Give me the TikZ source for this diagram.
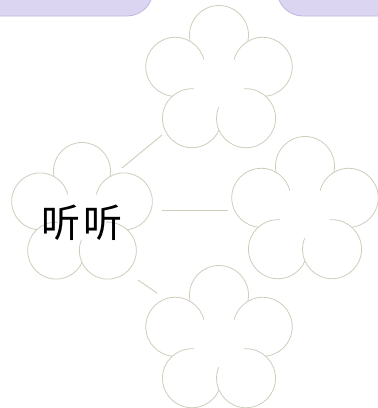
\documentclass[tikz,border=0pt]{standalone}
\usepackage{fontspec}
\newfontfamily\cjk{Noto Sans CJK SC}
\definecolor{flowerline}{RGB}{208,205,188}
\definecolor{lavfill}{RGB}{220,213,241}
\definecolor{lavline}{RGB}{192,182,226}
\tikzset{
  petal/.style={draw=flowerline, fill=white, line width=0.8pt},
  link/.style={draw=flowerline, line width=0.9pt},
  lavbox/.style={draw=lavline, fill=lavfill, line width=0.8pt, rounded corners=26pt},
  pics/flower/.style 2 args={code={
    \foreach \a in {270,198,342,126,54} \path[petal] (\a:#1) circle[radius=#2];
    \fill[white] (0,0) circle[radius={0.57*#1}];
  }}
}
\begin{document}
\begin{tikzpicture}[x=1pt,y=-1pt]
\useasboundingbox (0,0) rectangle (378,408);
\fill[white] (0,0) rectangle (378,408);
\begin{scope}
  \clip (0,0) rectangle (378,408);
  \path[lavbox] (-40,-60) rectangle (153,16);
  \path[lavbox] (277,-60) rectangle (420,16);
\end{scope}
% flowers
\pic (ftop) at (219,81) {flower={46}{29.5}};
\pic (fright) at (305,212) {flower={46}{29.5}};
\pic (fbot) at (219,341) {flower={46}{29.5}};
\pic (fleft) at (82,215) {flower={44}{28.5}};
% text
\node[font=\cjk\fontsize{39}{39}\selectfont, inner sep=0pt] (t) at (82,223) {听\hspace{3pt}听};
% connectors
\coordinate (a1) at (122,168);
\coordinate (a2) at (162,135);
\coordinate (b1) at (162,210);
\coordinate (b2) at (228,210);
\coordinate (c1) at (138,280);
\coordinate (c2) at (157,293);
\draw[link] (a1) -- (a2);
\draw[link] (b1) -- (b2);
\draw[link] (c1) -- (c2);
\end{tikzpicture}
\end{document}
